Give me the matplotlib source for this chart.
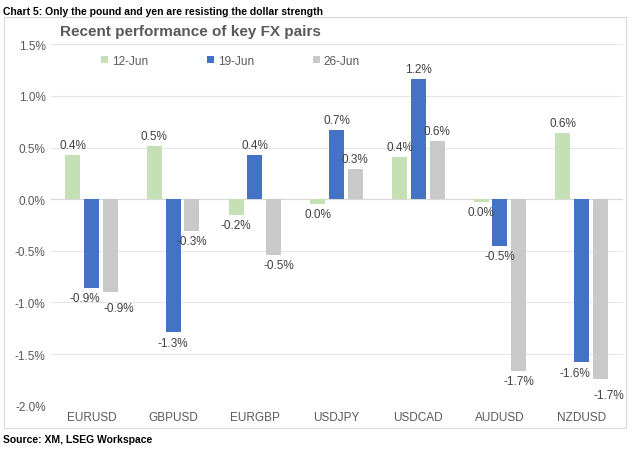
import numpy as np
import matplotlib.pyplot as plt
from matplotlib.patches import Rectangle

pairs = ["EURUSD", "GBPUSD", "EURGBP", "USDJPY", "USDCAD", "AUDUSD", "NZDUSD"]
series = ["12-Jun", "19-Jun", "26-Jun"]
jun12 = [0.43, 0.51, -0.15, -0.05, 0.41, -0.03, 0.64]
jun19 = [-0.86, -1.29, 0.43, 0.67, 1.16, -0.45, -1.58]
jun26 = [-0.90, -0.31, -0.54, 0.29, 0.56, -1.66, -1.74]
labels12 = ["0.4%", "0.5%", "-0.2%", "0.0%", "0.4%", "0.0%", "0.6%"]
labels19 = ["-0.9%", "-1.3%", "0.4%", "0.7%", "1.2%", "-0.5%", "-1.6%"]
labels26 = ["-0.9%", "-0.3%", "-0.5%", "0.3%", "0.6%", "-1.7%", "-1.7%"]
colors = ["#c5e0b4", "#4472c4", "#c9c9c9"]

plt.rcParams['font.family'] = ['Liberation Sans', 'DejaVu Sans']
fig = plt.figure(figsize=(6.32, 4.52), dpi=100)
fig.patches.append(Rectangle((0.006, 0.05), 0.985, 0.91, transform=fig.transFigure,
                             fill=False, edgecolor="#d9d9d9", linewidth=0.8))
fig.text(0.005, 0.985, "Chart 5: Only the pound and yen are resisting the dollar strength",
         fontsize=7.5, fontweight="bold", va="top", family=["Calibri", "Liberation Sans", "DejaVu Sans"])
fig.text(0.095, 0.93, "Recent performance of key FX pairs", fontsize=11,
         fontweight="bold", color="#595959", va="center")
fig.text(0.005, 0.027, "Source: XM, LSEG Workspace", fontsize=7.5, fontweight="bold", va="center")

ax = fig.add_axes([0.08, 0.10, 0.905, 0.80])
x = np.arange(len(pairs))
w = 0.23
for i, (vals, labs) in enumerate([(jun12, labels12), (jun19, labels19), (jun26, labels26)]):
    xs = x + (i - 1) * w
    ax.bar(xs, vals, w * 0.8, color=colors[i], label=series[i], zorder=3)
    for j, (xi, v, lab) in enumerate(zip(xs, vals, labs)):
        off = 0.04 if v >= 0 else -0.04
        dx = 0.0
        # push apart labels of neighbouring negative bars
        if i == 1 and v < 0 and jun26[j] < 0 and abs(jun26[j] - v) < 0.25:
            dx = -0.08
        if i == 2 and v < 0 and jun19[j] < 0 and abs(jun19[j] - v) < 0.25:
            dx = 0.1
            off -= 0.06
        if i == 2 and v < 0 and jun19[j] > 0:
            dx = 0.06
        ax.text(xi + dx, v + off, lab, ha="center", va="bottom" if v >= 0 else "top",
                fontsize=8.5, color="#404040", zorder=4)

ax.set_ylim(-2.0, 1.5)
ax.set_xlim(-0.5, len(pairs) - 0.5)
ax.set_yticks(np.arange(-2.0, 1.51, 0.5))
ax.set_yticklabels([f"{t:.1f}%" for t in np.arange(-2.0, 1.51, 0.5)])
ax.set_xticks(x)
ax.set_xticklabels(pairs)
ax.tick_params(length=0, labelsize=8.5, labelcolor="#595959")
ax.grid(axis="y", color="#e6e6e6", linewidth=0.8, zorder=0)
ax.axhline(0, color="#d9d9d9", linewidth=0.8, zorder=2)
for s in ax.spines.values():
    s.set_visible(False)
ax.legend(loc="upper left", bbox_to_anchor=(0.07, 1.0), ncol=3, frameon=False,
          fontsize=8.5, handlelength=0.6, handleheight=0.6, handletextpad=0.3,
          columnspacing=5, labelcolor="#595959")

fig.savefig("out.png", dpi=100)
